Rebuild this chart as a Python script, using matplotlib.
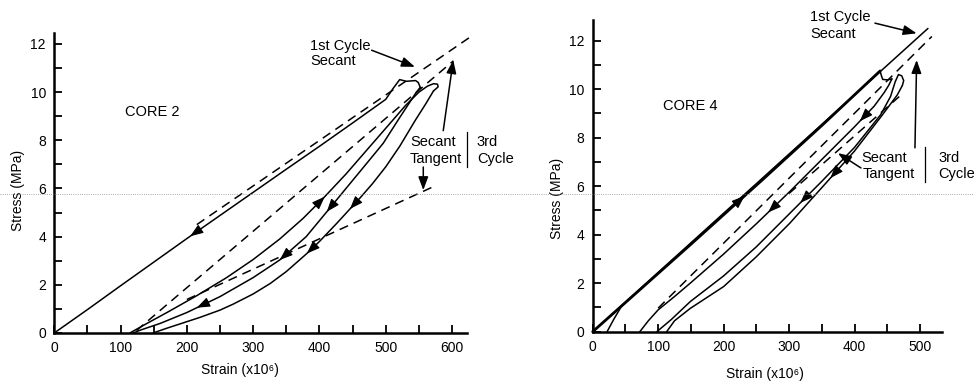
import numpy as np
import matplotlib
matplotlib.use("Agg")
import matplotlib.pyplot as plt
from matplotlib.ticker import MultipleLocator
from matplotlib.lines import Line2D

plt.rcParams['font.family'] = ['Liberation Sans', 'DejaVu Sans']

# ---------------- CORE 2 data (strain x1e-6, stress MPa) ----------------
c2_load1_x = [0, 50, 100, 150, 200, 250, 300, 350, 400, 450, 500, 511, 521, 531, 545, 549, 552]
c2_load1_y = [0, 0.97, 1.96, 2.94, 3.92, 4.88, 5.84, 6.8, 7.75, 8.72, 9.7, 10.15, 10.52, 10.45, 10.48, 10.4, 10.2]

c2_unload1_x = [552, 545, 520, 496, 461, 446, 411, 380, 340, 300, 250, 200, 160, 130, 119]
c2_unload1_y = [10.2, 9.95, 8.9, 7.87, 6.7, 6.2, 5.03, 4.0, 3.03, 2.3, 1.51, 0.85, 0.4, 0.12, 0]

c2_load3_x = [114, 140, 170, 215, 260, 300, 340, 375, 408, 440, 470, 500, 530, 550, 563, 572, 578, 579, 575, 572]
c2_load3_y = [0, 0.4, 0.85, 1.55, 2.3, 3.05, 3.9, 4.75, 5.66, 6.6, 7.55, 8.5, 9.45, 10.0, 10.25, 10.35, 10.33, 10.22, 10.12, 10.05]

c2_unload3_x = [572, 560, 545, 521, 500, 480, 461, 446, 426, 400, 381, 350, 326, 300, 270, 250, 220, 190, 170, 149]
c2_unload3_y = [10.05, 9.5, 8.85, 7.75, 6.9, 6.2, 5.6, 5.15, 4.55, 3.8, 3.3, 2.55, 2.06, 1.62, 1.2, 0.95, 0.65, 0.38, 0.2, 0]

c2_sec1_x = [215, 628]
c2_sec1_y = [4.5, 12.3]
c2_sec3_x = [124, 602]
c2_sec3_y = [0.1, 11.3]
c2_tan3_x = [200, 577]
c2_tan3_y = [1.39, 6.14]

# ---------------- CORE 4 data ----------------
c4_load1_x = [0, 50, 149, 260, 350, 439]
c4_load1_y = [0, 1.2, 3.58, 6.28, 8.5, 10.75]
c4_hook_x = [439, 441, 443, 450, 457]
c4_hook_y = [10.75, 10.55, 10.4, 10.38, 10.42]
c4_sec1_x = [0, 512]
c4_sec1_y = [0, 12.5]
c4_reload_x = [22, 32, 44]
c4_reload_y = [0, 0.5, 1.05]

c4_unload1_x = [457, 452, 445, 430, 400, 350, 300, 250, 200, 149, 125, 100, 85, 72]
c4_unload1_y = [10.42, 10.15, 9.85, 9.3, 8.45, 7.1, 5.75, 4.45, 3.2, 2.0, 1.45, 0.9, 0.45, 0]

c4_load3_x = [98, 120, 149, 200, 250, 300, 350, 400, 440, 455, 462, 467, 472, 475, 473]
c4_load3_y = [0, 0.5, 1.24, 2.3, 3.5, 4.85, 6.2, 7.6, 8.95, 9.7, 10.3, 10.6, 10.55, 10.35, 10.15]

c4_unload3_x = [473, 465, 440, 400, 357, 301, 250, 200, 149, 125, 113]
c4_unload3_y = [10.15, 9.75, 8.85, 7.45, 6.15, 4.47, 3.09, 1.86, 0.96, 0.45, 0]

c4_sec3_x = [100, 518]
c4_sec3_y = [0.97, 12.17]
c4_tan3_x = [300, 474]
c4_tan3_y = [5.7, 9.83]

# tick values
c2_xticks = [0, 100, 200, 300, 400, 500, 600]
c4_xticks = [0, 100, 200, 300, 400, 500]
yticks = [0, 2, 4, 6, 8, 10, 12]

LW = 1.1
DASH = (6, 4)

fig = plt.figure(figsize=(9.74, 3.82), dpi=100)
ax1 = fig.add_axes([0.0557, 0.1283, 0.4234, 0.785])
ax2 = fig.add_axes([0.6085, 0.1317, 0.3583, 0.816])


def style(ax, xmax, ymax, xticks):
    ax.set_xlim(0, xmax)
    ax.set_ylim(0, ymax)
    for s in ['top', 'right']:
        ax.spines[s].set_visible(False)
    for s in ['left', 'bottom']:
        ax.spines[s].set_linewidth(1.8)
    ax.set_xticks(xticks)
    ax.set_yticks(yticks)
    ax.xaxis.set_minor_locator(MultipleLocator(50))
    ax.yaxis.set_minor_locator(MultipleLocator(1))
    ax.tick_params(which='both', direction='in', length=6, width=1.3,
                   labelsize=10, pad=6)
    ax.patch.set_alpha(0)


def solid(ax, x, y, lw=LW):
    ax.plot(x, y, color='k', lw=lw, clip_on=False, solid_capstyle='round')


def dashed(ax, x, y):
    ax.plot(x, y, color='k', lw=LW, dashes=DASH, clip_on=False)


def curve_arrow(ax, xs, ys, x0, up=True, d=6):
    xs = np.asarray(xs, float)
    ys = np.asarray(ys, float)
    o = np.argsort(xs)
    xa = x0 - d if up else x0 + d
    ya = np.interp(xa, xs[o], ys[o])
    yb = np.interp(x0, xs[o], ys[o])
    ax.annotate('', xy=(x0, yb), xytext=(xa, ya),
                arrowprops=dict(arrowstyle='-|>,head_length=0.8,head_width=0.3',
                                color='k', lw=0.8, shrinkA=0, shrinkB=0,
                                mutation_scale=10))


def pointer(ax, start, end):
    ax.annotate('', xy=end, xytext=start, annotation_clip=False,
                arrowprops=dict(arrowstyle='-|>,head_length=0.8,head_width=0.3',
                                color='k', lw=1.1, shrinkA=0, shrinkB=0,
                                mutation_scale=10))


# ---------------- CORE 2 ----------------
style(ax1, 622, 12.45, c2_xticks)
solid(ax1, c2_load1_x, c2_load1_y)
solid(ax1, c2_unload1_x, c2_unload1_y)
solid(ax1, c2_load3_x, c2_load3_y)
solid(ax1, c2_unload3_x, c2_unload3_y)
dashed(ax1, c2_sec1_x, c2_sec1_y)
dashed(ax1, c2_sec3_x, c2_sec3_y)
dashed(ax1, c2_tan3_x, c2_tan3_y)

curve_arrow(ax1, c2_load1_x, c2_load1_y, 205, up=False)
curve_arrow(ax1, c2_load3_x[:14], c2_load3_y[:14], 408, up=True)
curve_arrow(ax1, c2_unload1_x, c2_unload1_y, 411, up=False)
curve_arrow(ax1, c2_unload1_x, c2_unload1_y, 340, up=False)
curve_arrow(ax1, c2_unload1_x, c2_unload1_y, 215, up=False)
curve_arrow(ax1, c2_unload3_x, c2_unload3_y, 446, up=False)
curve_arrow(ax1, c2_unload3_x, c2_unload3_y, 381, up=False)

ax1.text(106.8, 9.17, 'CORE 2', fontsize=10.5, va='center', ha='left')
ax1.text(385.9, 11.91, '1st Cycle', fontsize=10.5, va='center', ha='left')
ax1.text(385.9, 11.29, 'Secant', fontsize=10.5, va='center', ha='left')
pointer(ax1, (478.7, 11.74), (544, 11.05))
ax1.text(536.5, 7.95, 'Secant', fontsize=10.5, va='center', ha='left')
ax1.text(536.5, 7.24, 'Tangent', fontsize=10.5, va='center', ha='left')
ax1.plot([622, 622], [6.89, 8.34], color='k', lw=0.9, clip_on=False)
ax1.text(637.5, 7.95, '3rd', fontsize=10.5, va='center', ha='left')
ax1.text(637.5, 7.24, 'Cycle', fontsize=10.5, va='center', ha='left')
pointer(ax1, (586.7, 8.4), (601.8, 11.33))
pointer(ax1, (556.6, 6.89), (556.6, 5.93))

ax1.set_xlabel('Strain (x10⁶)', fontsize=10)
ax1.set_ylabel('Stress (MPa)', fontsize=10)
ax1.xaxis.set_label_coords(0.45, -0.10)
ax1.yaxis.set_label_coords(-0.071, 0.477)

# ---------------- CORE 4 ----------------
style(ax2, 533, 12.85, c4_xticks)
solid(ax2, c4_load1_x, c4_load1_y, lw=2.0)
solid(ax2, c4_hook_x, c4_hook_y)
solid(ax2, c4_sec1_x, c4_sec1_y)
solid(ax2, c4_reload_x, c4_reload_y)
solid(ax2, c4_unload1_x, c4_unload1_y)
solid(ax2, c4_load3_x, c4_load3_y)
solid(ax2, c4_unload3_x, c4_unload3_y)
dashed(ax2, c4_sec3_x, c4_sec3_y)
dashed(ax2, c4_tan3_x, c4_tan3_y)

curve_arrow(ax2, c4_load1_x, c4_load1_y, 232, up=True)
curve_arrow(ax2, c4_unload1_x, c4_unload1_y, 268, up=False)
curve_arrow(ax2, c4_unload1_x, c4_unload1_y, 408, up=False)
curve_arrow(ax2, c4_load3_x[:10], c4_load3_y[:10], 317, up=False)
curve_arrow(ax2, c4_unload3_x, c4_unload3_y, 363, up=False)

ax2.text(148.9, 9.31, 'CORE 4', fontsize=10.5, va='center', ha='center')
ax2.text(331.9, 12.96, '1st Cycle', fontsize=10.5, va='center', ha='left')
ax2.text(331.9, 12.28, 'Secant', fontsize=10.5, va='center', ha='left')
pointer(ax2, (431.1, 12.72), (494.8, 12.3))
ax2.text(410.8, 7.18, 'Secant', fontsize=10.5, va='center', ha='left')
ax2.text(412.8, 6.52, 'Tangent', fontsize=10.5, va='center', ha='left')
ax2.plot([507.5, 507.5], [6.19, 7.63], color='k', lw=0.9, clip_on=False)
ax2.text(527.4, 7.18, '3rd', fontsize=10.5, va='center', ha='left')
ax2.text(527.4, 6.5, 'Cycle', fontsize=10.5, va='center', ha='left')
pointer(ax2, (492.2, 7.58), (494.8, 11.2))
pointer(ax2, (409.7, 6.75), (374.6, 7.36))

ax2.set_xlabel('Strain (x10⁶)', fontsize=10)
ax2.set_ylabel('Stress (MPa)', fontsize=10)
ax2.xaxis.set_label_coords(0.494, -0.113)
ax2.yaxis.set_label_coords(-0.081, 0.427)

# faint scan line across the page
fig.add_artist(Line2D([0, 1], [0.491, 0.491], transform=fig.transFigure,
                      color='0.55', lw=0.6, ls=':'))

fig.savefig('out.png', dpi=100)
